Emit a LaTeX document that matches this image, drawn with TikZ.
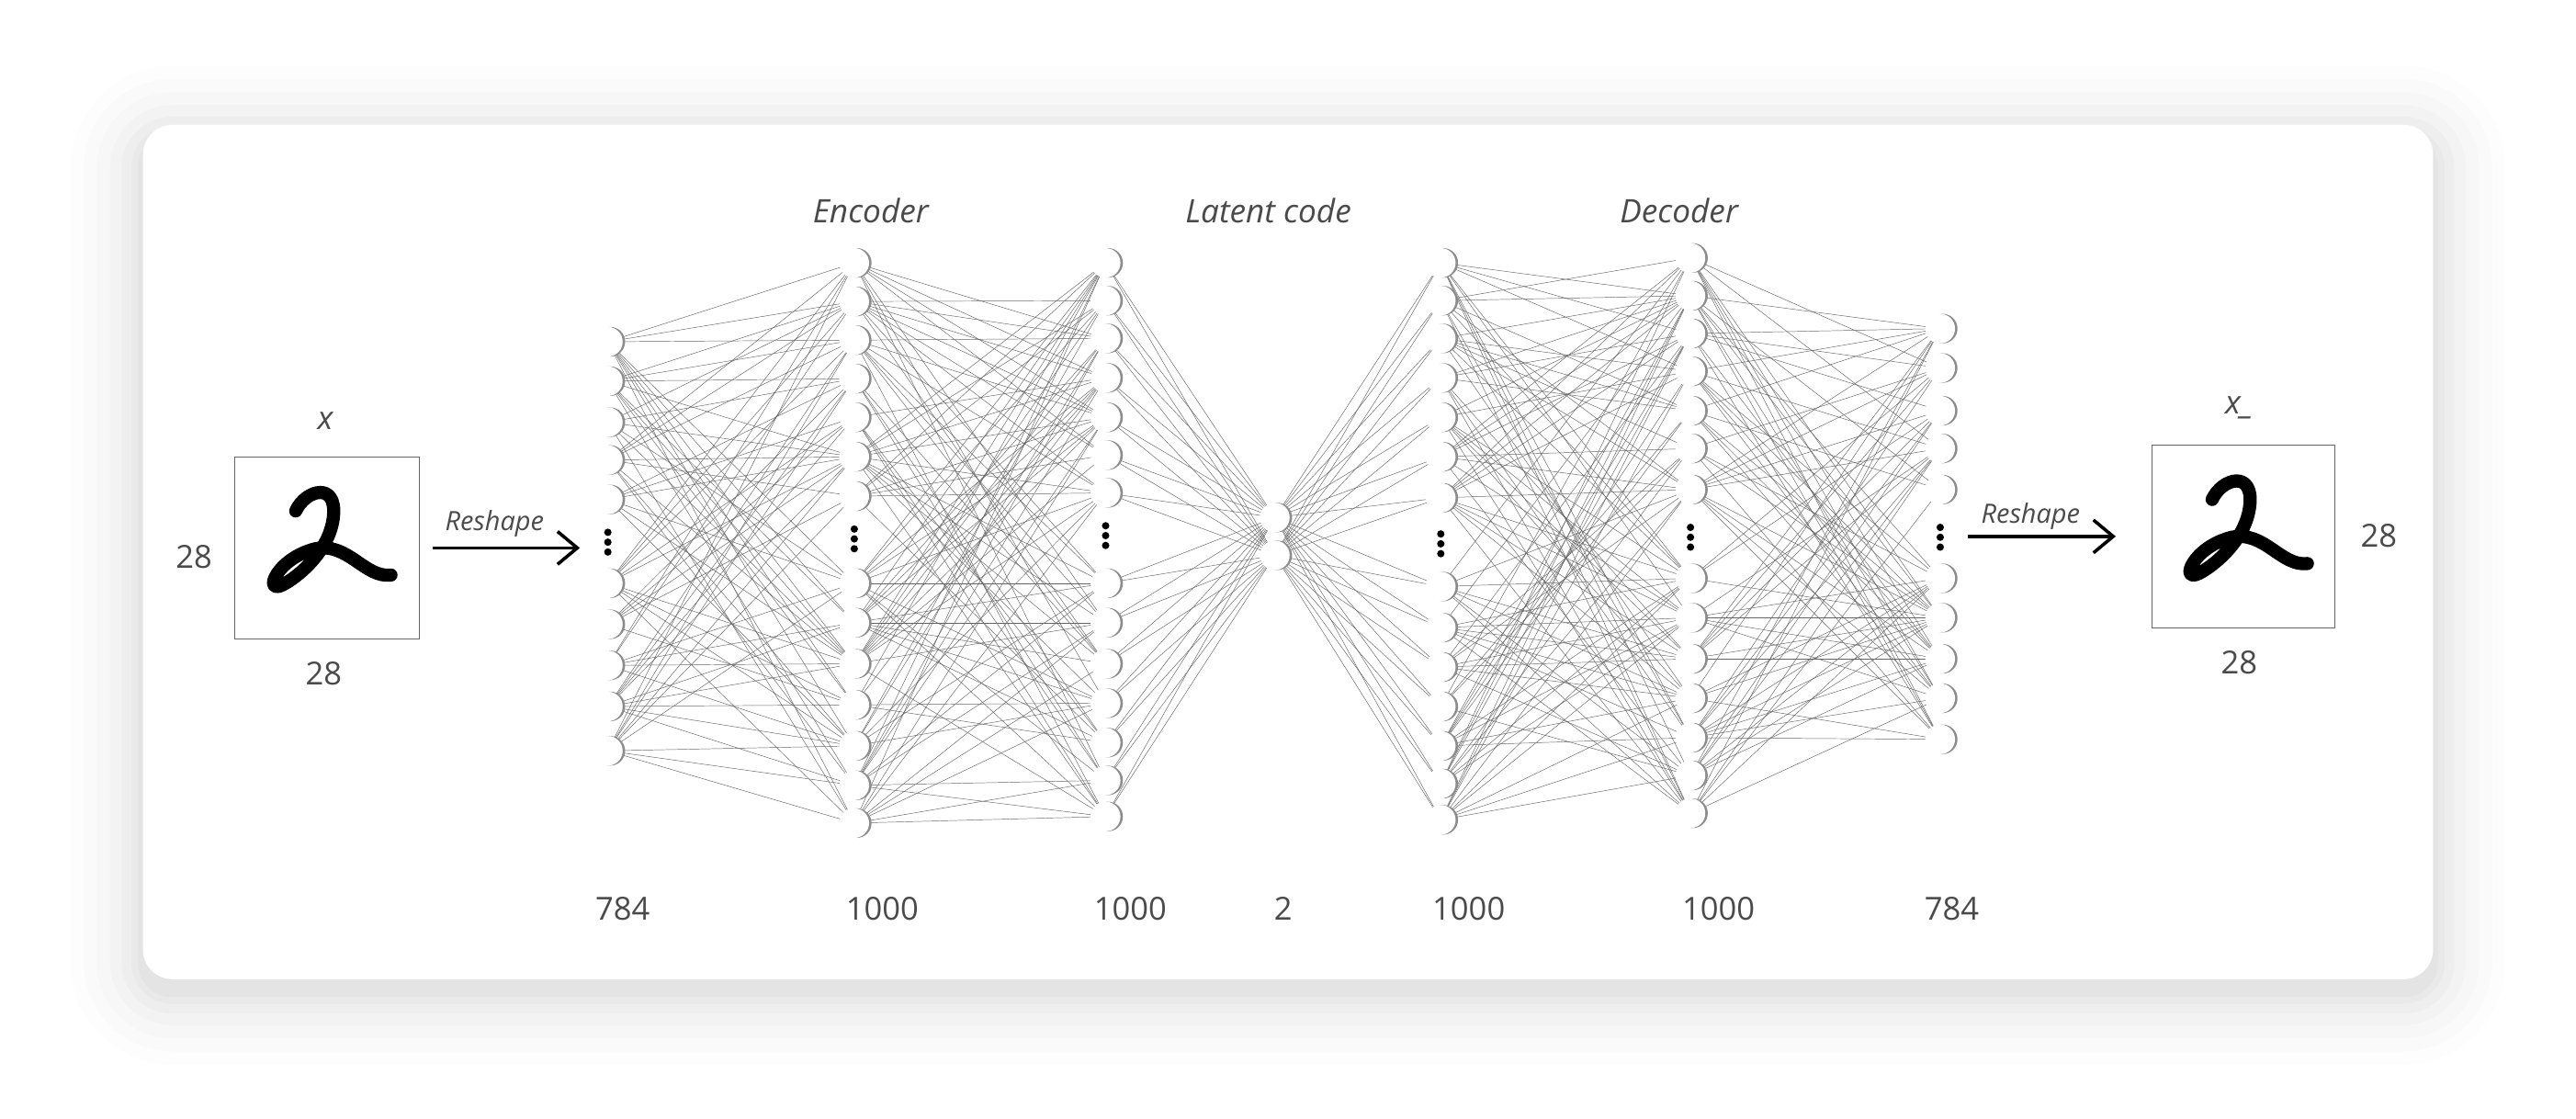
\documentclass[tikz,border=0pt]{standalone}
\usepackage{fontspec}
\setmainfont{Open Sans}
\newfontfamily\hand{Open Sans}
\usetikzlibrary{arrows.meta}
\pgfdeclarelayer{card}
\pgfdeclarelayer{bg}
\pgfsetlayers{card,bg,main}
\definecolor{txt}{HTML}{4A4A4A}
\tikzset{
  neuron/.style={circle,fill=white,minimum size=1.8cm,inner sep=0pt},
  shade/.style={circle,fill=black!45,minimum size=1.8cm,inner sep=0pt},
  edge/.style={draw=black!60,line width=0.75pt},
  num/.style={font=\fontsize{55}{64}\selectfont,text=txt},
  lbl/.style={font=\hand\itshape\fontsize{56}{64}\selectfont,text=txt},
  rlbl/.style={font=\hand\itshape\fontsize{46}{54}\selectfont,text=txt},
  arr/.style={line width=0.2cm,-{Straight Barb[length=1.2cm,width=2cm,line width=0.2cm]}},
  dot/.style={circle,fill=black,minimum size=0.45cm,inner sep=0pt}
}
\newcommand{\mklayer}[3]{%
  \foreach \yy [count=\k] in {#3} {
    \node[shade] at ({#2+1.5},\yy) {};
    \node[neuron] (#1-\k) at (#2,\yy) {};
  }}
\newcommand{\mkdots}[2]{%
  \node[dot] (#1d1) at (#2) {};
  \node[dot] (#1d2) at ([yshift=-0.6cm]#2) {};
  \node[dot] (#1d3) at ([yshift=-1.2cm]#2) {};}
\newcommand{\connect}[5]{% from, n, to, m, percent
  \foreach \i in {1,...,#2} {\foreach \j in {1,...,#4} {
    \pgfmathrandominteger{\rr}{0}{99}
    \ifnum\rr<#5\relax \draw[edge] (#1-\i) -- (#3-\j);\fi
  }}}
\begin{document}
\begin{tikzpicture}[x=0.1cm,y=-0.1cm]
\useasboundingbox (0,0) rectangle (1568,681);
\begin{pgfonlayer}{card}
\fill[white] (0,0) rectangle (1568,681);
\foreach \e/\o in {44/0.008,36/0.01,28/0.012,20/0.015,13/0.018,7/0.02,3/0.02}{
  \fill[black,opacity=\o,rounded corners=\e*0.1cm+1.8cm] (87-\e,84-\e) rectangle (1481+\e,604+\e);
}
\fill[white,rounded corners=1.8cm] (87,76) rectangle (1481,596);
\end{pgfonlayer}

\pgfmathsetseed{11}
\mklayer{A}{370}{208,232,257,280,304,355,380,405,430,457}
\mklayer{B}{520}{160,183.5,207,230.5,254,278,302,355,379,404,429,454,478,501}
\mklayer{C}{673}{160,183,206,230,254,277,300,355,379,404,428,452,475,497}
\mklayer{Z}{776}{315,338}
\mklayer{D}{877}{160,183,206,230,254,278,303,357,382,406,430,454,477,499}
\mklayer{E}{1029}{157,180,203,226,250,273,298,352,376,401,425,449,472,495}
\mklayer{F}{1181}{200,224,250,273,298,352,376,401,425,450}
\mkdots{A}{370,324}
\mkdots{B}{520,322}
\mkdots{C}{673,320}
\mkdots{D}{877,325}
\mkdots{E}{1029,321}
\mkdots{F}{1181,321}
\begin{pgfonlayer}{bg}
\connect{A}{10}{B}{14}{55}
\connect{B}{14}{C}{14}{50}
\connect{C}{14}{Z}{2}{100}
\connect{Z}{2}{D}{14}{100}
\connect{D}{14}{E}{14}{50}
\connect{E}{14}{F}{10}{55}
\end{pgfonlayer}

\node[draw=black!60,line width=1pt,minimum width=11.2cm,minimum height=11.1cm,inner sep=0pt] (img1) at (199,333.5) {};
\node[draw=black!60,line width=1pt,minimum width=11.1cm,minimum height=11.1cm,inner sep=0pt] (img2) at (1365.5,326.5) {};
\foreach \dx/\dy in {199/333.5,1365.5/326.5}{
\begin{scope}[shift={(\dx-199,\dy-333.5)}]
\draw[black,line width=0.8cm,line cap=round,line join=round]
  (180,311) .. controls (186,298) and (205,293) .. (203,314)
  .. controls (201,336) and (180,352) .. (172,356)
  .. controls (160,362) and (168,340) .. (192,334)
  .. controls (212,330) and (222,352) .. (238,350);
\end{scope}}
\node[lbl] (xl) at (198,256) {x};
\node[num] (h1) at (118,339) {28};
\node[num] (w1) at (197,410) {28};
\node[lbl] (xr) at (1363,248) {x\_};
\node[num] (h2) at (1448,326) {28};
\node[num] (w2) at (1363,403) {28};

\draw[arr] ([xshift=0.8cm]img1.east) -- ([xshift=-0.8cm]A-5.west |- img1.east);
\draw[arr] ([xshift=0.8cm]F-5.east |- img2.west) -- ([xshift=-2.2cm]img2.west);
\node[rlbl] (rs1) at (301,319) {Reshape};
\node[rlbl] (rs2) at (1236,314) {Reshape};

\node[lbl] (enc) at (530,128) {Encoder};
\node[lbl] (lat) at (772,128) {Latent code};
\node[lbl] (dec) at (1022,128) {Decoder};

\node[num] (n1) at (379,553) {784};
\node[num] (n2) at (537,553) {1000};
\node[num] (n3) at (688,553) {1000};
\node[num] (n4) at (781,553) {2};
\node[num] (n5) at (894,553) {1000};
\node[num] (n6) at (1046,553) {1000};
\node[num] (n7) at (1188,553) {784};
\end{tikzpicture}
\end{document}
